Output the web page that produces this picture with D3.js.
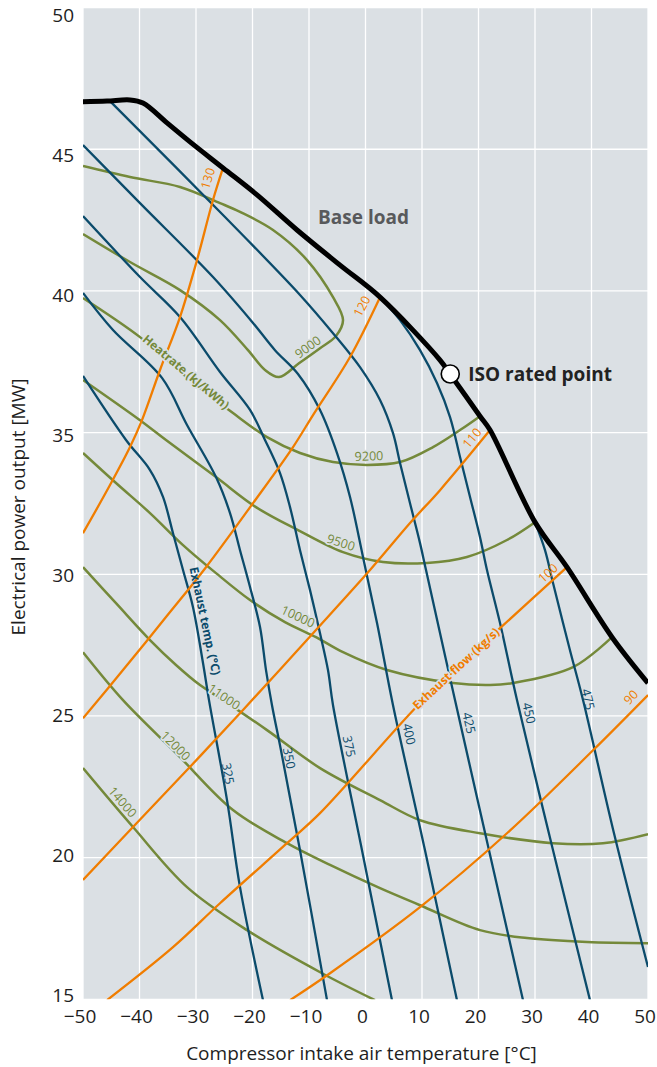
<!DOCTYPE html>
<html>
<head>
<meta charset="utf-8">
<title>Gas turbine performance chart</title>
<script src="https://cdn.jsdelivr.net/npm/d3@7"></script>
<style>
    body { margin: 0; background: #ffffff; }
    svg { display: block; font-family: "Open Sans", "Noto Sans", sans-serif; }
    .plotBackground { fill: #dbe0e4; }
    .grid line { stroke: #ffffff; stroke-width: 1.3; }
    .axis text { font-size: 19px; fill: #1e1e1e; font-family: "Open Sans", "Noto Sans", sans-serif; }
    .axisTitle { font-size: 19px; fill: #1e1e1e; }
    .heatRate { fill: none; stroke: #74893a; stroke-width: 2.5; }
    .exhaustTemp { fill: none; stroke: #0b4b6b; stroke-width: 2.3; }
    .exhaustFlow { fill: none; stroke: #f07d00; stroke-width: 2.3; }
    .baseLoad { fill: none; stroke: #000000; stroke-width: 5; stroke-linejoin: round; }
    .numLabel { font-size: 12.5px; }
    .nameLabel { font-size: 12px; font-weight: bold; }
    .halo { stroke: #dbe0e4; stroke-width: 3.5px; paint-order: stroke; stroke-linejoin: round; }
    .heatLabel { fill: #74893a; }
    .tempLabel { fill: #0b4b6b; }
    .flowLabel { fill: #f07d00; }
    .baseLoadText { font-size: 19px; font-weight: bold; fill: #58595b; }
    .isoText { font-size: 19px; font-weight: bold; fill: #222222; }
    .isoPoint { fill: #ffffff; stroke: #000000; stroke-width: 1.6; }
</style>
</head>
<body>
<script>
//axis ticks
var xTicks = [-50, -40, -30, -20, -10, 0, 10, 20, 30, 40, 50];
var yTicks = [15, 20, 25, 30, 35, 40, 45, 50];

//base load line, [intake temperature °C, output MW]
var baseLoad = [[-50, 46.68], [-45.75, 46.70], [-41.68, 46.74], [-39.38, 46.63], [-35.13, 45.93],
    [-31.06, 45.26], [-25.22, 44.34], [-19.20, 43.39], [-12.12, 42.15], [-4.51, 40.91],
    [2.57, 39.78], [13.19, 37.56], [14.96, 37.07], [20.27, 35.58], [22.04, 35.09],
    [30.0, 31.84], [35.66, 30.25], [43.63, 27.78], [50, 26.16]];
var isoPoint = [15, 37.07];

//exhaust temperature lines (°C)
var exhaustTemp325 = [[-50, 37.00], [-42.39, 34.74], [-38.14, 33.68], [-35.84, 32.73], [-34.07, 31.45],
    [-32.30, 30.15], [-30.53, 28.84], [-28.76, 26.87], [-27.70, 25.56], [-24.51, 22.03],
    [-22.21, 18.96], [-18.14, 14.97]];
var exhaustTemp350 = [[-50, 39.93], [-44.69, 38.62], [-36.02, 36.93], [-31.59, 35.27], [-26.46, 33.43],
    [-23.98, 32.16], [-22.21, 30.85], [-20.44, 29.55], [-18.67, 28.14], [-17.61, 26.62],
    [-16.55, 25.38], [-14.96, 23.79], [-11.59, 20.26], [-6.81, 14.97]];
var exhaustTemp375 = [[-50, 42.64], [-39.91, 40.49], [-32.83, 39.08], [-25.75, 37.14], [-20.44, 35.80],
    [-17.79, 34.74], [-15.13, 33.57], [-13.36, 32.37], [-11.59, 30.85], [-9.82, 29.44],
    [-8.05, 27.92], [-6.64, 26.62], [-5.75, 25.38], [-0.62, 20.26], [4.69, 14.97]];
var exhaustTemp400 = [[-50, 45.15], [-39.91, 43.10], [-26.99, 40.49], [-19.91, 38.87], [-16.02, 37.91],
    [-11.95, 37.07], [-8.05, 35.80], [-5.04, 34.28], [-2.74, 32.73], [-0.44, 30.61],
    [2.04, 28.28], [4.87, 25.38], [10.53, 20.26], [16.19, 14.97]];
var exhaustTemp425 = [[-45.22, 46.70], [-24.87, 42.61], [-11.59, 39.86], [-5.75, 38.51], [-0.97, 37.31],
    [2.57, 36.15], [4.87, 34.98], [6.11, 33.93], [7.88, 32.51], [9.65, 31.10],
    [10.71, 30.15], [15.84, 25.56], [21.86, 20.26], [27.88, 14.97]];
var exhaustTemp450 = [[2.57, 39.78], [6.11, 38.97], [9.65, 37.91], [12.65, 36.75], [14.96, 35.55],
    [16.73, 34.14], [18.50, 32.73], [20.27, 31.31], [21.50, 30.15], [23.81, 28.28],
    [26.81, 25.56], [33.19, 20.26], [39.73, 14.97]];
var exhaustTemp475 = [[30.0, 31.84], [31.77, 30.85], [33.19, 29.69], [36.19, 27.32], [38.50, 25.56],
    [43.98, 20.86], [50, 16.14]];

//exhaust flow lines (kg/s)
var exhaustFlow130 = [[-50, 31.45], [-45.22, 33.15], [-41.68, 34.49], [-39.56, 35.44], [-36.37, 37.21],
    [-32.83, 39.08], [-29.82, 41.09], [-26.99, 43.21], [-25.22, 44.34]];
var exhaustFlow120 = [[-50, 24.92], [-42.92, 26.62], [-35.31, 28.49], [-28.23, 30.25], [-19.91, 32.51],
    [-12.83, 34.49], [-9.29, 35.62], [-2.74, 37.67], [2.57, 39.78]];
var exhaustFlow110 = [[-50, 19.21], [-41.15, 21.08], [-31.59, 23.09], [-21.68, 25.21], [-9.29, 27.92],
    [0.80, 30.15], [7.88, 31.81], [13.19, 32.97], [22.04, 35.09]];
var exhaustFlow100 = [[-45.75, 14.97], [-34.07, 16.84], [-25.75, 18.39], [-13.89, 20.51], [-8.05, 21.57],
    [9.29, 25.38], [16.73, 26.79], [23.81, 28.10], [35.66, 30.25]];
var exhaustFlow90 = [[-13.36, 14.97], [-6.28, 15.92], [9.65, 18.25], [25.04, 20.86], [40.27, 23.79],
    [50, 25.74]];

//heat rate lines (kJ/kWh)
var heatRate9000 = [[-50, 44.41], [-41.68, 44.02], [-32.83, 43.67], [-25.75, 43.10], [-22.21, 42.79],
    [-16.37, 42.15], [-10.35, 41.09], [-5.75, 39.78], [-3.98, 38.97], [-5.22, 38.41],
    [-8.05, 37.98], [-11.77, 37.45], [-15.31, 36.96], [-17.79, 37.21], [-20.80, 37.91],
    [-25.75, 38.97], [-32.83, 40.03], [-41.68, 41.02], [-50, 42.01]];
var heatRate9200 = [[-50, 39.75], [-39.91, 38.37], [-31.06, 36.86], [-23.45, 35.69], [-17.43, 34.84],
    [-11.59, 34.28], [-5.75, 33.96], [0.27, 33.86], [6.11, 33.96], [11.95, 34.49],
    [16.73, 35.09], [20.27, 35.58]];
var heatRate9500 = [[-50, 36.86], [-39.91, 35.44], [-35.31, 34.74], [-26.46, 33.43], [-19.38, 32.37],
    [-11.95, 31.56], [-3.98, 30.78], [3.10, 30.43], [10.88, 30.40], [17.96, 30.61],
    [25.04, 31.21], [30.0, 31.84]];
var heatRate10000 = [[-50, 34.28], [-44.16, 33.22], [-38.14, 32.16], [-32.30, 31.03], [-26.46, 30.04],
    [-20.44, 29.09], [-14.25, 28.31], [-8.76, 27.78], [-3.98, 27.25], [3.81, 26.62],
    [15.49, 26.16], [22.04, 26.09], [26.11, 26.16], [36.73, 26.72], [43.63, 27.78]];
var heatRate11000 = [[-50, 30.25], [-44.16, 28.98], [-38.14, 27.68], [-33.54, 26.80], [-29.29, 26.09],
    [-25.22, 25.56], [-17.43, 24.50], [-8.05, 23.16], [2.57, 22.03], [9.65, 21.32],
    [20.27, 20.86], [33.19, 20.51], [42.04, 20.51], [50, 20.83]];
var heatRate12000 = [[-50, 27.25], [-42.92, 25.56], [-33.19, 23.62], [-23.45, 21.68], [-13.89, 20.51],
    [-6.28, 19.74], [2.57, 18.92], [9.65, 18.32], [20.27, 17.44], [28.58, 17.16],
    [39.20, 17.02], [50, 16.98]];
var heatRate14000 = [[-50, 23.16], [-41.15, 21.08], [-31.59, 18.96], [-20.97, 17.44], [-7.70, 15.92],
    [1.68, 14.97]];

//line labels, [text, temperature, MW, angle]
var tempLabels = [["325", -24.34, 22.96, 79], ["350", -13.54, 23.51, 79], ["375", -2.92, 23.93, 78],
    ["400", 7.70, 24.36, 78], ["425", 18.32, 24.75, 77], ["450", 28.94, 25.10, 77],
    ["475", 39.38, 25.59, 76]];
var flowLabels = [["130", -27.88, 43.97, -73], ["120", -0.62, 39.46, -62], ["110", 18.85, 34.81, -50],
    ["100", 32.30, 30.04, -42], ["90", 46.99, 25.66, -45]];
var heatLabels = [["9000", -10.18, 38.02, -36], ["9200", 0.62, 34.17, -2], ["9500", -4.34, 31.12, 18],
    ["10000", -11.95, 28.51, 25], ["11000", -25.04, 25.67, 34], ["12000", -33.63, 23.95, 45],
    ["14000", -43.01, 21.96, 49]];
var nameLabels = [["Heatrate (kJ/kWh)", -31.77, 37.14, 40, "heatLabel halo"],
    ["Exhaust temp. (°C)", -28.41, 28.35, 78, "tempLabel"],
    ["Exhaust flow (kg/s)", 16.02, 26.67, -43, "flowLabel halo"]];
var baseLoadLabel = ["Base load", -0.35, 42.61];

setChart();

function setChart(){

    //frame and plot area
    var width = 657,
        height = 1067,
        plotLeft = 83,
        plotRight = 648,
        plotTop = 7.6,
        plotBottom = 999.3;

    var svg = d3.select("body")
        .append("svg")
        .attr("width", width)
        .attr("height", height);

    var x = d3.scaleLinear()
        .domain([-50, 50])
        .range([plotLeft, plotRight]);

    var y = d3.scaleLinear()
        .domain([15, 50])
        .range([plotBottom, plotTop]);

    //the reference spaces its y tick labels a little tighter than the grid
    var yLabel = d3.scaleLinear()
        .domain([15, 50])
        .range([995, 15]);

    svg.append("defs")
        .append("clipPath")
        .attr("id", "plotClip")
        .append("rect")
        .attr("x", plotLeft)
        .attr("y", plotTop)
        .attr("width", plotRight - plotLeft)
        .attr("height", plotBottom - plotTop);

    svg.append("rect")
        .attr("class", "plotBackground")
        .attr("x", plotLeft)
        .attr("y", plotTop)
        .attr("width", plotRight - plotLeft)
        .attr("height", plotBottom - plotTop);

    //white grid
    var grid = svg.append("g").attr("class", "grid");
    grid.selectAll(".vLine")
        .data(xTicks)
        .enter()
        .append("line")
        .attr("x1", function(d){ return x(d); })
        .attr("x2", function(d){ return x(d); })
        .attr("y1", plotTop)
        .attr("y2", plotBottom);
    grid.selectAll(".hLine")
        .data(yTicks)
        .enter()
        .append("line")
        .attr("x1", plotLeft)
        .attr("x2", plotRight)
        .attr("y1", function(d){ return y(d); })
        .attr("y2", function(d){ return y(d); });

    //axes without domain or tick marks
    var xAxis = svg.append("g")
        .attr("class", "axis")
        .attr("transform", "translate(0," + plotBottom + ")")
        .call(d3.axisBottom(x).tickValues(xTicks).tickSize(0).tickPadding(10));
    xAxis.select(".domain").remove();
    xAxis.selectAll("text").attr("dx", -3.5);

    var yAxis = svg.append("g")
        .attr("class", "axis")
        .attr("transform", "translate(" + plotLeft + ",0)")
        .call(d3.axisLeft(yLabel).tickValues(yTicks).tickSize(0).tickPadding(9));
    yAxis.select(".domain").remove();

    svg.append("text")
        .attr("class", "axisTitle")
        .attr("x", 361.5)
        .attr("y", 1060)
        .attr("text-anchor", "middle")
        .text("Compressor intake air temperature [°C]");

    svg.append("text")
        .attr("class", "axisTitle")
        .attr("transform", "translate(18," + 507 + ") rotate(-90)")
        .attr("text-anchor", "middle")
        .attr("dy", "0.35em")
        .text("Electrical power output [MW]");

    //curves
    var line = d3.line()
        .x(function(d){ return x(d[0]); })
        .y(function(d){ return y(d[1]); })
        .curve(d3.curveCatmullRom.alpha(0.5));

    var curves = svg.append("g").attr("clip-path", "url(#plotClip)");

    var heatRateLines = [heatRate9000, heatRate9200, heatRate9500, heatRate10000,
        heatRate11000, heatRate12000, heatRate14000];
    var exhaustTempLines = [exhaustTemp325, exhaustTemp350, exhaustTemp375, exhaustTemp400,
        exhaustTemp425, exhaustTemp450, exhaustTemp475];
    var exhaustFlowLines = [exhaustFlow130, exhaustFlow120, exhaustFlow110, exhaustFlow100, exhaustFlow90];

    drawLines(curves, heatRateLines, "heatRate", line);
    drawLines(curves, exhaustTempLines, "exhaustTemp", line);
    drawLines(curves, exhaustFlowLines, "exhaustFlow", line);
    drawLines(curves, [baseLoad], "baseLoad", line);

    //line labels
    drawLabels(svg, heatLabels, "numLabel heatLabel halo", x, y);
    drawLabels(svg, tempLabels, "numLabel tempLabel", x, y);
    drawLabels(svg, flowLabels, "numLabel flowLabel", x, y);
    drawLabels(svg, nameLabels, "nameLabel", x, y);

    svg.append("text")
        .attr("class", "baseLoadText")
        .attr("x", x(baseLoadLabel[1]))
        .attr("y", y(baseLoadLabel[2]))
        .attr("text-anchor", "middle")
        .attr("dy", "0.35em")
        .text(baseLoadLabel[0]);

    //ISO rated point
    svg.append("circle")
        .attr("class", "isoPoint")
        .attr("cx", x(isoPoint[0]))
        .attr("cy", y(isoPoint[1]))
        .attr("r", 9);

    svg.append("text")
        .attr("class", "isoText")
        .attr("x", x(isoPoint[0]) + 18)
        .attr("y", y(isoPoint[1]))
        .attr("dy", "0.35em")
        .text("ISO rated point");
};

function drawLines(group, lines, className, line){
    group.selectAll("." + className)
        .data(lines)
        .enter()
        .append("path")
        .attr("class", className)
        .attr("d", line);
};

//labels are placed in data units and turned to follow their line
function drawLabels(svg, labels, className, x, y){
    svg.append("g")
        .selectAll("text")
        .data(labels)
        .enter()
        .append("text")
        .attr("class", function(d){ return className + (d[4] ? " " + d[4] : ""); })
        .attr("transform", function(d){
            return "translate(" + x(d[1]) + "," + y(d[2]) + ") rotate(" + d[3] + ")";
        })
        .attr("text-anchor", "middle")
        .attr("dy", "0.35em")
        .text(function(d){ return d[0]; });
};
</script>
</body>
</html>
